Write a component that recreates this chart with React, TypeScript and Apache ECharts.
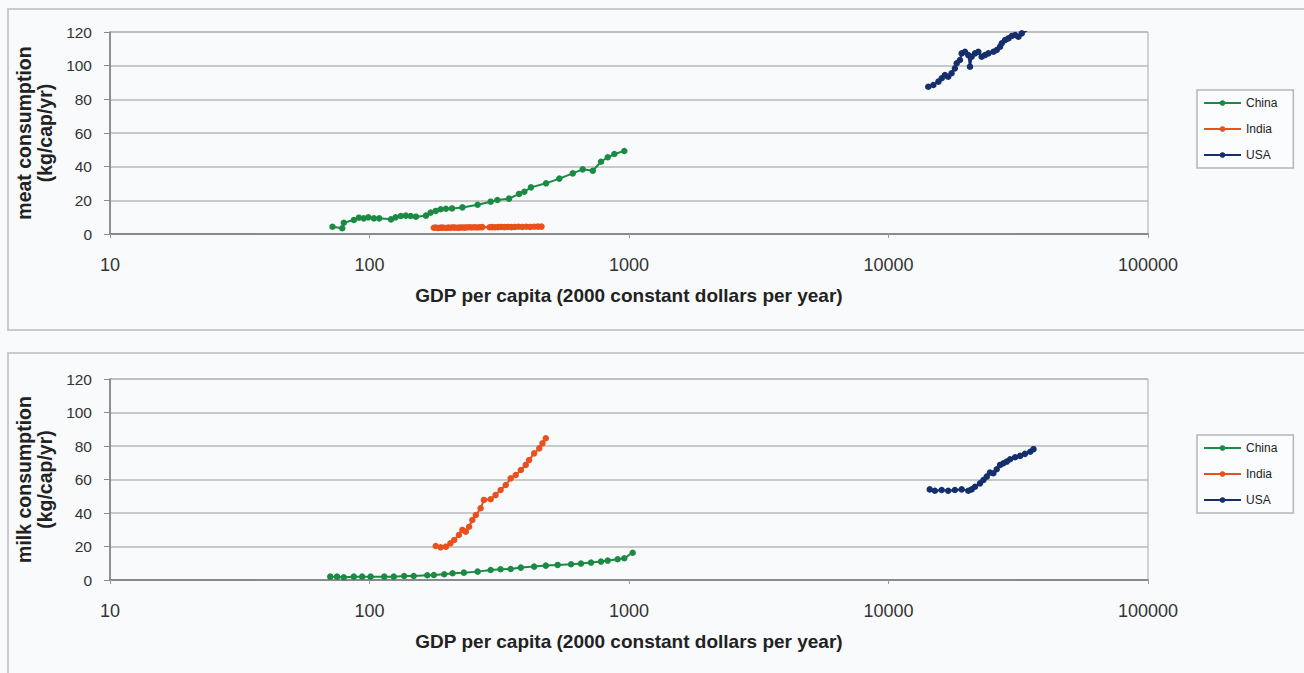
import React, { useEffect, useRef } from "react";
import * as echarts from "echarts";

// GDP per capita (x) and consumption (y)
const chinaMeatGdp = [72, 78.5, 79.6, 87, 91, 95, 99, 104, 109, 121, 126, 132, 138, 144, 151, 165, 172, 180, 188, 197, 208, 228, 261, 293, 311, 345, 377, 395, 419, 479, 539, 607, 663, 725, 780, 828, 878, 959];
const chinaMeat = [4.3, 3.4, 6.7, 8.3, 9.7, 9.3, 9.9, 9.3, 9.3, 8.7, 9.9, 10.7, 10.9, 10.7, 10.3, 10.9, 12.7, 13.7, 14.7, 15.0, 15.2, 15.8, 17.4, 19.2, 20.2, 21.0, 23.8, 25.1, 27.7, 30.1, 32.9, 36.0, 38.4, 37.6, 42.9, 45.6, 47.5, 49.3];

const indiaMeatGdp = [177, 180, 184, 187, 190, 193, 197, 201, 205, 209, 213, 218, 222, 227, 232, 237, 242, 248, 254, 260, 266, 272, 290, 297, 305, 313, 322, 331, 341, 352, 363, 375, 388, 402, 416, 431, 446, 460];
const indiaMeat = [3.7, 3.8, 3.6, 3.7, 3.8, 3.7, 3.6, 3.8, 3.7, 3.9, 3.8, 3.7, 3.8, 3.9, 3.8, 3.9, 4.0, 3.9, 4.0, 3.9, 4.0, 4.1, 4.0, 4.1, 4.0, 4.1, 4.2, 4.1, 4.2, 4.1, 4.2, 4.3, 4.2, 4.3, 4.2, 4.3, 4.4, 4.4];

const usaMeatGdp = [14230, 14890, 15570, 16030, 16500, 16990, 17500, 18020, 18310, 18850, 19140, 19710, 20300, 20610, 20910, 21540, 22190, 22850, 23530, 24250, 25360, 26120, 26910, 27320, 28130, 28980, 29850, 30750, 31680, 32630, 34120];
const usaMeat = [87.5, 88.5, 90.5, 92.5, 94.4, 93.4, 95.5, 98.4, 101.4, 103.4, 107.3, 108.3, 106.3, 99.4, 105.3, 107.3, 108.3, 105.3, 106.3, 107.3, 108.3, 109.3, 111.3, 113.3, 115.2, 116.2, 117.6, 118.2, 117.2, 119.2, 120.8];

const chinaMilkGdp = [70.6, 75, 79.6, 87, 93.7, 101, 114, 124, 136, 148, 167, 177, 194, 209, 231, 261, 293, 320, 350, 383, 431, 478, 531, 598, 653, 714, 780, 828, 904, 959, 1033];
const chinaMilk = [2.0, 2.0, 1.6, 2.0, 2.0, 2.0, 2.0, 2.0, 2.4, 2.4, 2.8, 3.0, 3.4, 4.0, 4.4, 5.0, 6.0, 6.4, 6.6, 7.4, 8.0, 8.6, 9.0, 9.4, 9.8, 10.4, 11.0, 11.6, 12.4, 13.0, 16.3];

const indiaMilkGdp = [180, 188, 197, 205, 212, 221, 228, 235, 242, 249, 257, 268, 276, 293, 306, 320, 335, 350, 366, 383, 400, 412, 431, 451, 464, 478];
const indiaMilk = [20.3, 19.5, 19.9, 21.9, 23.9, 26.9, 29.9, 28.9, 31.8, 35.8, 38.8, 42.8, 47.8, 48.2, 50.7, 53.7, 56.7, 60.7, 62.7, 65.7, 68.7, 71.6, 75.6, 78.6, 81.6, 84.6];

const usaMilkGdp = [14420, 15090, 16030, 16990, 18020, 19140, 20300, 20910, 21540, 22520, 23220, 23900, 24600, 25360, 26120, 26910, 27720, 28560, 29410, 30750, 32150, 33560, 35170, 36210];
const usaMilk = [54.1, 53.3, 53.7, 53.3, 53.7, 54.1, 53.3, 54.1, 55.7, 57.7, 59.7, 61.7, 64.1, 63.7, 66.1, 68.7, 69.7, 70.7, 72.1, 73.3, 74.1, 75.3, 76.6, 78.1];

const countries = ["China", "India", "USA"];
const colors = ["#1b8a43", "#e8501e", "#142f6b"];
const yTitles = ["meat consumption\n(kg/cap/yr)", "milk consumption\n(kg/cap/yr)"];
const xTitle = "GDP per capita (2000 constant dollars per year)";

const zip = (xs: number[], ys: number[]) => xs.map((x, i) => [x, ys[i]]);

export default function App() {
  const ref = useRef<HTMLDivElement>(null);
  useEffect(() => {
    const chart = echarts.init(ref.current!, null, { renderer: "svg" });
    const font = "'Liberation Sans', Arial, sans-serif";
    const tops = [32, 379];
    const heights = [202, 201];
    const legendTops = [90, 435];
    const seriesData = [
      [zip(chinaMeatGdp, chinaMeat), zip(indiaMeatGdp, indiaMeat), zip(usaMeatGdp, usaMeat)],
      [zip(chinaMilkGdp, chinaMilk), zip(indiaMilkGdp, indiaMilk), zip(usaMilkGdp, usaMilk)],
    ];
    const series: any[] = [];
    seriesData.forEach((set, gi) => {
      set.forEach((data, ci) => {
        series.push({
          type: "line",
          name: countries[ci],
          xAxisIndex: gi,
          yAxisIndex: gi,
          data,
          symbol: "circle",
          symbolSize: 6.5,
          showSymbol: true,
          lineStyle: { color: colors[ci], width: 2 },
          itemStyle: { color: colors[ci] },
        });
      });
    });
    chart.setOption({
      animation: false,
      backgroundColor: "#f8fafc",
      textStyle: { fontFamily: font },
      graphic: [
        { type: "rect", shape: { x: 8, y: 9, width: 1310, height: 321 }, style: { fill: "none", stroke: "#c9cbcd", lineWidth: 2 } },
        { type: "rect", shape: { x: 8, y: 353, width: 1310, height: 340 }, style: { fill: "none", stroke: "#c9cbcd", lineWidth: 2 } },
      ],
      grid: tops.map((t, i) => ({
        left: 110,
        top: t,
        width: 1038,
        height: heights[i],
        show: true,
        borderColor: "#a8a8a8",
        borderWidth: 1,
        backgroundColor: "transparent",
      })),
      legend: legendTops.map((t) => ({
        data: countries,
        orient: "vertical",
        left: 1197,
        top: t,
        padding: [7, 16, 7, 6],
        itemGap: 14,
        itemWidth: 37,
        itemHeight: 7,
        borderColor: "#b5b5b5",
        borderWidth: 1.5,
        backgroundColor: "#fbfcfd",
        textStyle: { fontFamily: font, fontSize: 12, color: "#222" },
      })),
      xAxis: [0, 1].map((i) => ({
        type: "log",
        logBase: 10,
        gridIndex: i,
        min: 10,
        max: 100000,
        name: xTitle,
        nameLocation: "middle",
        nameGap: 52,
        nameTextStyle: { fontFamily: font, fontSize: 19, fontWeight: "bold", color: "#222" },
        axisLine: { lineStyle: { color: "#7a7a7a", width: 1.5 } },
        axisTick: { show: true, length: 4, lineStyle: { color: "#9a9a9a" } },
        axisLabel: {
          fontFamily: font,
          fontSize: 18,
          color: "#333",
          margin: 22,
          formatter: (v: number) => String(Math.round(v)),
        },
        splitLine: { show: false },
        minorTick: { show: false },
      })),
      yAxis: [0, 1].map((i) => ({
        type: "value",
        gridIndex: i,
        min: 0,
        max: 120,
        interval: 20,
        name: yTitles[i],
        nameLocation: "middle",
        nameRotate: 90,
        nameGap: 48,
        nameTextStyle: { fontFamily: font, fontSize: 19.5, fontWeight: "bold", color: "#222", lineHeight: 21 },
        axisLine: { show: true, lineStyle: { color: "#7a7a7a", width: 1.5 } },
        axisTick: { show: true, length: 6, lineStyle: { color: "#8a8a8a" } },
        axisLabel: { fontFamily: font, fontSize: 15.5, color: "#333", margin: 18 },
        splitLine: { show: true, lineStyle: { color: "#b8b8b8", width: 1.5 } },
      })),
      series,
    });
    return () => chart.dispose();
  }, []);
  return (
    <div
      ref={ref}
      style={{ position: "fixed", left: 0, top: 0, width: 1304, height: 673 }}
    />
  );
}
